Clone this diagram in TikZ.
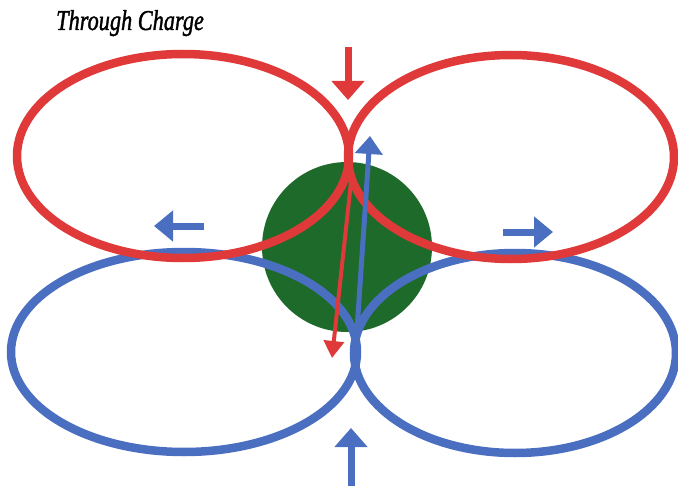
\documentclass[tikz,border=0pt]{standalone}
\usepackage{fontspec}
\setmainfont{Liberation Serif}
\usetikzlibrary{arrows.meta}
\definecolor{rred}{HTML}{E0393A}
\definecolor{bblue}{HTML}{4A6EC0}
\definecolor{ggreen}{HTML}{1E6A2B}
\tikzset{
  loopline/.style={line width=8.5pt},
  bigarrow/.style={line width=7pt, -{Triangle[width=32pt,length=19pt]}},
}
\begin{document}
\begin{tikzpicture}[x=1pt,y=-1pt]
\useasboundingbox (0,0) rectangle (678,487);
% green charge
\fill[ggreen] (347,247) circle (85);
% blue loops
\draw[loopline,bblue] (184,352) ellipse [x radius=173, y radius=100];
\draw[loopline,bblue] (515,353) ellipse [x radius=161, y radius=100];
% red loops
\draw[loopline,rred] (183,156) ellipse [x radius=166, y radius=102];
\draw[loopline,rred] (511,157) ellipse [x radius=163, y radius=102];
% coordinates
\coordinate (rs) at (351,182);
\coordinate (re) at (332,358);
\coordinate (bs) at (356,345);
\coordinate (be) at (370,136);
\coordinate (ts) at (348,47);
\coordinate (te) at (348,100);
\coordinate (us) at (351,486);
\coordinate (ue) at (351,428);
\coordinate (ls) at (204,226);
\coordinate (le) at (154,226);
\coordinate (qs) at (503,232);
\coordinate (qe) at (553,232);
% inner arrows
\draw[rred,line width=4pt,-{Triangle[width=20pt,length=17pt]}] (rs) -- (re);
\draw[bblue,line width=5pt,-{Triangle[width=27pt,length=18pt]}] (bs) -- (be);
% outer arrows
\draw[bigarrow,rred] (ts) -- (te);
\draw[bigarrow,bblue] (us) -- (ue);
\draw[bblue,line width=7pt,-{Triangle[width=30pt,length=19pt]}] (ls) -- (le);
\draw[bblue,line width=7pt,-{Triangle[width=30pt,length=19pt]}] (qs) -- (qe);
% title
\node[anchor=base west,inner sep=0pt,font=\itshape\fontsize{23}{27}\selectfont\addfontfeatures{FakeBold=1.5}] (title) at (56,30) {\scalebox{0.97}[1.25]{Through Charge}};
\end{tikzpicture}
\end{document}
